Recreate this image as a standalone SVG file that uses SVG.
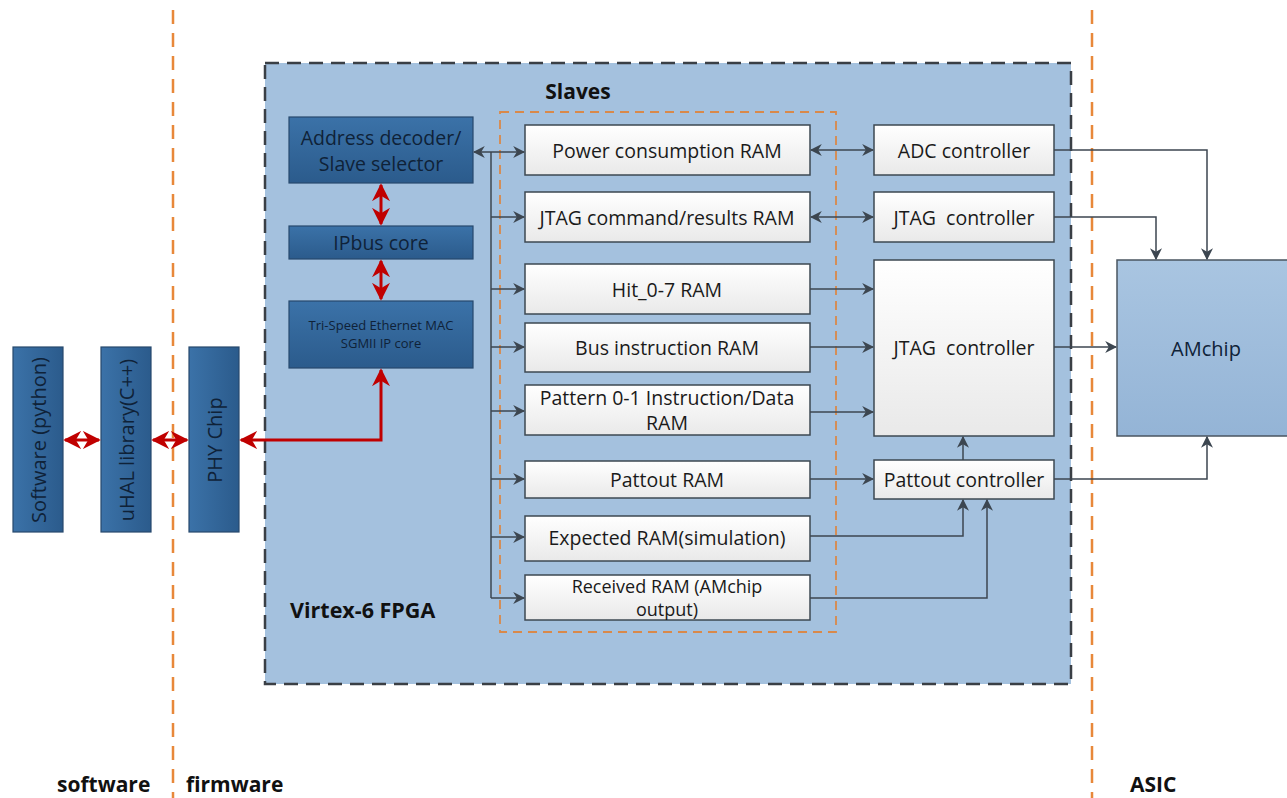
<svg xmlns="http://www.w3.org/2000/svg" width="1287" height="798" viewBox="0 0 1287 798">
  <defs>
    <linearGradient id="gDark" x1="0" y1="0" x2="0" y2="1">
      <stop offset="0" stop-color="#3b72a8"/>
      <stop offset="1" stop-color="#2b5b8c"/>
    </linearGradient>
    <linearGradient id="gDarkV" x1="0" y1="0" x2="1" y2="0">
      <stop offset="0" stop-color="#3b72a8"/>
      <stop offset="1" stop-color="#2b5b8c"/>
    </linearGradient>
    <linearGradient id="gWhite" x1="0" y1="0" x2="0" y2="1">
      <stop offset="0" stop-color="#ffffff"/>
      <stop offset="1" stop-color="#e9e9e9"/>
    </linearGradient>
    <linearGradient id="gChip" x1="0" y1="0" x2="0" y2="1">
      <stop offset="0" stop-color="#a9c5e1"/>
      <stop offset="1" stop-color="#94b4d6"/>
    </linearGradient>
    <marker id="ah" viewBox="0 0 10 10" refX="9" refY="5" markerWidth="12" markerHeight="12" markerUnits="userSpaceOnUse" orient="auto-start-reverse">
      <path d="M0,0 L10,5 L0,10 L3,5 z" fill="#3c4650"/>
    </marker>
    <marker id="rh" viewBox="0 0 10 10" refX="9" refY="5" markerWidth="18" markerHeight="18" markerUnits="userSpaceOnUse" orient="auto-start-reverse">
      <path d="M0,0 L10,5 L0,10 L3,5 z" fill="#c00000"/>
    </marker>
  </defs>
  <style>
    .t { font-family: "Open Sans", "Liberation Sans", sans-serif; fill: #1a1a1a; text-anchor: middle; dominant-baseline: central; font-size: 19.5px; }
    .td { font-family: "Open Sans", "Liberation Sans", sans-serif; fill: #0f2238; text-anchor: middle; dominant-baseline: central; font-size: 19.5px; }
    .b { font-family: "Open Sans", "Liberation Sans", sans-serif; font-weight: bold; fill: #111; font-size: 21px; }
    .dark { fill: url(#gDark); stroke: #27496d; stroke-width: 1.2; }
    .darkv { fill: url(#gDarkV); stroke: #27496d; stroke-width: 1.2; }
    .white { fill: url(#gWhite); stroke: #3d4852; stroke-width: 1.5; }
    .bound { stroke: #e8883a; stroke-width: 2.5; stroke-dasharray: 14 9; fill: none; }
    .c { stroke: #3c4650; stroke-width: 1.5; fill: none; }
    .r { stroke: #c00000; stroke-width: 3; fill: none; }
  </style>

  <rect width="1287" height="798" fill="#ffffff"/>

  <!-- domain boundaries -->
  <g id="boundaries">
    <line class="bound" x1="173" y1="10" x2="173" y2="798"/>
    <line class="bound" x1="1092" y1="10" x2="1092" y2="798"/>
  </g>

  <!-- FPGA container -->
  <g id="fpga">
    <rect x="265" y="63" width="806" height="621" fill="#a4c1de" stroke="#3a3f45" stroke-width="2.5" stroke-dasharray="14 8"/>
    <text class="b" x="290" y="618" style="font-size:21.5px">Virtex-6 FPGA</text>
  </g>

  <!-- slave group -->
  <g id="slaves">
    <rect x="500" y="112" width="336" height="520" fill="none" stroke="#d9894a" stroke-width="1.8" stroke-dasharray="9 6"/>
    <text class="b" x="578" y="99" text-anchor="middle">Slaves</text>
  </g>

  <!-- host side -->
  <g id="software">
    <rect class="darkv" x="13" y="347" width="50" height="185"/>
    <text class="td" transform="translate(38,440) rotate(-90)" style="font-size:20px">Software (python)</text>
  </g>
  <g id="uhal">
    <rect class="darkv" x="101" y="347" width="50" height="185"/>
    <text class="td" transform="translate(126,440) rotate(-90)" style="font-size:20px">uHAL library(C++)</text>
  </g>
  <g id="phy">
    <rect class="darkv" x="189" y="347" width="50" height="185"/>
    <text class="td" transform="translate(214,440) rotate(-90)" style="font-size:20px">PHY Chip</text>
  </g>

  <!-- firmware core -->
  <g id="addr-decoder">
    <rect class="dark" x="289" y="117" width="184" height="66"/>
    <text class="td" x="381" y="137">Address decoder/</text>
    <text class="td" x="381" y="163">Slave selector</text>
  </g>
  <g id="ipbus">
    <rect class="dark" x="289" y="226" width="184" height="33"/>
    <text class="td" x="381" y="242.5">IPbus core</text>
  </g>
  <g id="temac">
    <rect class="dark" x="289" y="301" width="184" height="67"/>
    <text class="td" x="381" y="325" style="font-size:13px">Tri-Speed Ethernet MAC</text>
    <text class="td" x="381" y="343" style="font-size:13px">SGMII IP core</text>
  </g>

  <!-- slave RAMs -->
  <g id="ram-power">
    <rect class="white" x="525" y="125" width="285" height="50"/>
    <text class="t" x="667" y="150">Power consumption RAM</text>
  </g>
  <g id="ram-jtag">
    <rect class="white" x="525" y="192" width="285" height="50"/>
    <text class="t" x="667" y="217">JTAG command/results RAM</text>
  </g>
  <g id="ram-hit">
    <rect class="white" x="525" y="264" width="285" height="50"/>
    <text class="t" x="667" y="289">Hit_0-7 RAM</text>
  </g>
  <g id="ram-bus">
    <rect class="white" x="525" y="323" width="285" height="49"/>
    <text class="t" x="667" y="347.5">Bus instruction RAM</text>
  </g>
  <g id="ram-pattern">
    <rect class="white" x="525" y="385" width="285" height="50"/>
    <text class="t" x="667" y="397">Pattern 0-1 Instruction/Data</text>
    <text class="t" x="667" y="422">RAM</text>
  </g>
  <g id="ram-pattout">
    <rect class="white" x="525" y="461" width="285" height="37"/>
    <text class="t" x="667" y="479.5">Pattout RAM</text>
  </g>
  <g id="ram-expected">
    <rect class="white" x="525" y="516" width="285" height="45"/>
    <text class="t" x="667" y="537">Expected RAM(simulation)</text>
  </g>
  <g id="ram-received">
    <rect class="white" x="525" y="575" width="285" height="45"/>
    <text class="t" x="667" y="586" style="font-size:18px">Received RAM (AMchip</text>
    <text class="t" x="667" y="609" style="font-size:18px">output)</text>
  </g>

  <!-- controllers -->
  <g id="ctrl-adc">
    <rect class="white" x="874" y="125" width="180" height="50"/>
    <text class="t" x="964" y="150">ADC controller</text>
  </g>
  <g id="ctrl-jtag">
    <rect class="white" x="874" y="192" width="180" height="50"/>
    <text class="t" x="964" y="217" xml:space="preserve">JTAG  controller</text>
  </g>
  <g id="ctrl-jtag-big">
    <rect class="white" x="874" y="260" width="180" height="176"/>
    <text class="t" x="964" y="347" xml:space="preserve">JTAG  controller</text>
  </g>
  <g id="ctrl-pattout">
    <rect class="white" x="874" y="460" width="180" height="39"/>
    <text class="t" x="964" y="479.5">Pattout controller</text>
  </g>

  <!-- ASIC -->
  <g id="amchip">
    <rect x="1117" y="260" width="180" height="176" fill="url(#gChip)" stroke="#4a5560" stroke-width="1.5"/>
    <text class="td" x="1206" y="348" style="font-size:20px">AMchip</text>
  </g>

  <!-- labels of the three domains -->
  <g id="domain-labels">
    <text class="b" x="57" y="792">software</text>
    <text class="b" x="186" y="792">firmware</text>
    <text class="b" x="1130" y="792">ASIC</text>
  </g>

  <!-- connectors -->
  <g id="connectors">
    <!-- red data path -->
    <line class="r" x1="65" y1="440" x2="99" y2="440" marker-start="url(#rh)" marker-end="url(#rh)"/>
    <line class="r" x1="153" y1="440" x2="187" y2="440" marker-start="url(#rh)" marker-end="url(#rh)"/>
    <polyline class="r" points="241,440 381,440 381,370" marker-start="url(#rh)" marker-end="url(#rh)"/>
    <line class="r" x1="381" y1="185" x2="381" y2="224" marker-start="url(#rh)" marker-end="url(#rh)"/>
    <line class="r" x1="381" y1="261" x2="381" y2="299" marker-start="url(#rh)" marker-end="url(#rh)"/>

    <!-- slave bus -->
    <line class="c" x1="474" y1="152" x2="524" y2="152" marker-start="url(#ah)" marker-end="url(#ah)"/>
    <line class="c" x1="491" y1="152" x2="491" y2="598"/>
    <line class="c" x1="491" y1="217" x2="524" y2="217" marker-end="url(#ah)"/>
    <line class="c" x1="491" y1="289" x2="524" y2="289" marker-end="url(#ah)"/>
    <line class="c" x1="491" y1="347" x2="524" y2="347" marker-end="url(#ah)"/>
    <line class="c" x1="491" y1="411" x2="524" y2="411" marker-end="url(#ah)"/>
    <line class="c" x1="491" y1="479" x2="524" y2="479" marker-end="url(#ah)"/>
    <line class="c" x1="491" y1="537" x2="524" y2="537" marker-end="url(#ah)"/>
    <line class="c" x1="491" y1="598" x2="524" y2="598" marker-end="url(#ah)"/>

    <!-- RAM to controller links -->
    <line class="c" x1="811" y1="150" x2="873" y2="150" marker-start="url(#ah)" marker-end="url(#ah)"/>
    <line class="c" x1="811" y1="217" x2="873" y2="217" marker-start="url(#ah)" marker-end="url(#ah)"/>
    <line class="c" x1="810" y1="289" x2="873" y2="289" marker-end="url(#ah)"/>
    <line class="c" x1="810" y1="347" x2="873" y2="347" marker-end="url(#ah)"/>
    <line class="c" x1="810" y1="412" x2="873" y2="412" marker-end="url(#ah)"/>
    <line class="c" x1="810" y1="479" x2="873" y2="479" marker-end="url(#ah)"/>
    <polyline class="c" points="810,536 963,536 963,500" marker-end="url(#ah)"/>
    <polyline class="c" points="810,598 987,598 987,500" marker-end="url(#ah)"/>
    <line class="c" x1="963" y1="460" x2="963" y2="437" marker-end="url(#ah)"/>

    <!-- controllers to AMchip -->
    <polyline class="c" points="1054,150 1207,150 1207,259" marker-end="url(#ah)"/>
    <polyline class="c" points="1054,217 1156,217 1156,259" marker-end="url(#ah)"/>
    <line class="c" x1="1054" y1="347" x2="1116" y2="347" marker-end="url(#ah)"/>
    <polyline class="c" points="1054,479 1207,479 1207,437" marker-end="url(#ah)"/>
  </g>
</svg>
